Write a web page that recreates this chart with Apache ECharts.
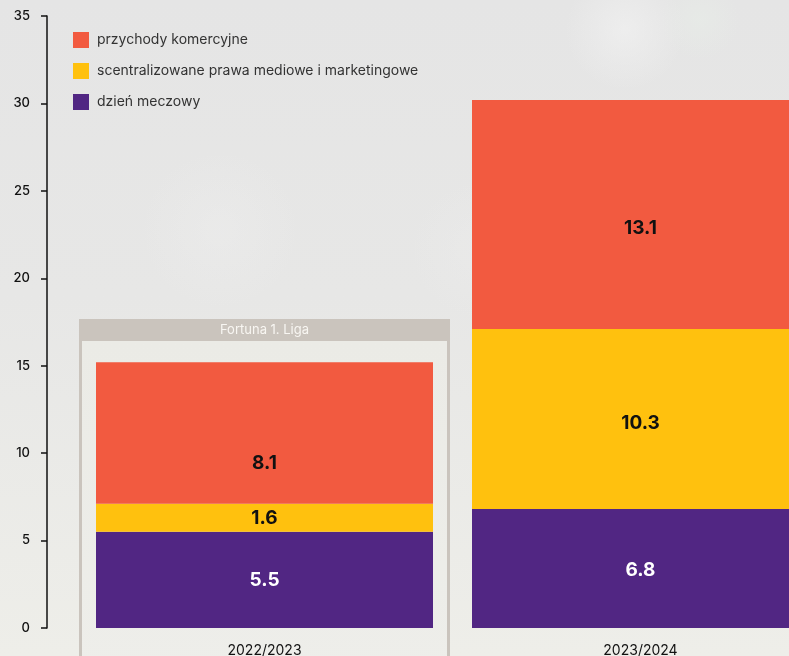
<!DOCTYPE html>
<html>
<head>
<meta charset="utf-8">
<style>
  html, body { margin: 0; padding: 0; background: #e8e8e6; }
  #chart { width: 789px; height: 656px; }
</style>
<script src="https://cdn.jsdelivr.net/npm/echarts@6/dist/echarts.min.js"></script>
</head>
<body>
<div id="chart"></div>
<script>
// Revenue structure by season (PLN m)
const seasons = ['2022/2023', '2023/2024'];
const matchDay = [5.5, 6.8];          // dzień meczowy
const mediaRights = [1.6, 10.3];      // scentralizowane prawa mediowe i marketingowe
const commercial = [8.1, 13.1];       // przychody komercyjne
const yTicks = [0, 5, 10, 15, 20, 25, 30, 35];
const leagueName = 'Fortuna 1. Liga';

const names = {
  commercial: 'przychody komercyjne',
  media: 'scentralizowane prawa mediowe i marketingowe',
  matchDay: 'dzień meczowy'
};
const colors = { commercial: '#f25a40', media: '#ffc10e', matchDay: '#512683' };

const FONT = 'Inter, "Noto Sans", sans-serif';

// per-bar vertical nudges of the value labels
const labelShift = {
  commercial: [30, 14],
  media: [0, 4],
  matchDay: [0, 2]
};

function withLabels(values, shifts) {
  return values.map((v, i) => ({
    value: v,
    label: { offset: [0, shifts[i]] }
  }));
}

function barSeries(key, values, textColor) {
  return {
    name: names[key],
    type: 'bar',
    stack: 'total',
    barWidth: 337,
    itemStyle: { color: colors[key] },
    label: {
      show: true,
      position: 'inside',
      color: textColor,
      fontFamily: FONT,
      fontWeight: 'bold',
      fontSize: 19,
      formatter: p => p.value.toFixed(1)
    },
    emphasis: { disabled: true },
    data: withLabels(values, labelShift[key])
  };
}

const chart = echarts.init(document.getElementById('chart'), null, { renderer: 'canvas' });

const option = {
  animation: false,
  textStyle: { fontFamily: FONT },
  grid: {
    left: 76.5, right: -39.5, top: 16, bottom: 28,
    containLabel: false,
    outerBoundsMode: 'none'
  },
  legend: {
    orient: 'vertical',
    left: 73,
    top: 32,
    padding: 0,
    itemWidth: 16,
    itemHeight: 16,
    itemGap: 15,
    icon: 'rect',
    textStyle: { fontSize: 14, color: '#333', fontFamily: FONT, padding: [0, 0, 0, 3] },
    selectedMode: false,
    data: [names.commercial, names.media, names.matchDay]
  },
  xAxis: {
    type: 'category',
    data: seasons,
    axisLine: { show: false },
    axisTick: { show: false },
    axisLabel: { color: '#111', fontSize: 14, margin: 16 }
  },
  yAxis: {
    type: 'value',
    min: yTicks[0],
    max: yTicks[yTicks.length - 1],
    interval: yTicks[1] - yTicks[0],
    offset: 29.5,
    axisLine: { show: true, lineStyle: { color: '#111', width: 1.5 } },
    axisTick: { show: true, length: 6, lineStyle: { color: '#111', width: 1.5 } },
    axisLabel: { color: '#111', fontSize: 13, fontWeight: 500, margin: 17 },
    splitLine: { show: false }
  },
  series: [
    barSeries('matchDay', matchDay, '#ffffff'),
    barSeries('media', mediaRights, '#111111'),
    barSeries('commercial', commercial, '#111111')
  ]
};

chart.setOption(option);

// Backdrop and the league frame around the first season
const W = chart.getWidth(), H = chart.getHeight();
const cx = chart.convertToPixel({ xAxisIndex: 0 }, seasons[0]);
const half = 185.5;
const boxTop = 319;

function haze(x, y, rx, ry, rgb, a) {
  return {
    type: 'ellipse', z: -99, silent: true,
    shape: { cx: x, cy: y, rx: rx, ry: ry },
    style: {
      fill: new echarts.graphic.RadialGradient(0.5, 0.5, 0.5, [
        { offset: 0, color: 'rgba(' + rgb + ',' + a + ')' },
        { offset: 1, color: 'rgba(' + rgb + ',0)' }
      ])
    }
  };
}

chart.setOption({
  graphic: [
    {
      type: 'rect', z: -100, silent: true,
      shape: { x: 0, y: 0, width: W, height: H },
      style: {
        fill: new echarts.graphic.LinearGradient(0, 0, 0, 1, [
          { offset: 0, color: '#e5e5e5' },
          { offset: 0.45, color: '#e7e7e6' },
          { offset: 1, color: '#eeeee9' }
        ])
      }
    },
    haze(625, 30, 60, 90, '243,243,243', 0.6),
    haze(700, 20, 40, 60, '232,238,232', 0.5),
    haze(220, 230, 200, 80, '240,240,240', 0.35),
    haze(480, 250, 90, 70, '238,238,238', 0.35),
    {
      type: 'rect', z: -50, silent: true,
      shape: { x: cx - half, y: boxTop, width: half * 2, height: H - boxTop + 10 },
      style: { fill: '#cac4bd' }
    },
    {
      type: 'rect', z: -49, silent: true,
      shape: { x: cx - half + 3, y: boxTop + 22, width: half * 2 - 6, height: H - boxTop },
      style: {
        fill: new echarts.graphic.LinearGradient(0, 0, 0, 1, [
          { offset: 0, color: '#ebebe6' },
          { offset: 1, color: '#eeeeea' }
        ])
      }
    },
    {
      type: 'text', z: -48, silent: true,
      style: {
        x: cx, y: boxTop + 11,
        text: leagueName,
        fill: '#f8f6f2',
        fontSize: 13,
        fontFamily: FONT,
        align: 'center',
        verticalAlign: 'middle'
      }
    }
  ]
});
</script>
</body>
</html>
